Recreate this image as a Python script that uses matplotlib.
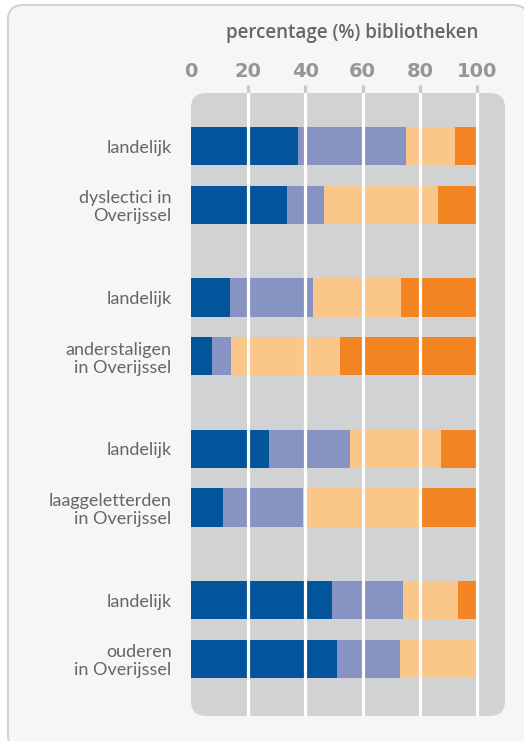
import numpy as np
import matplotlib.pyplot as plt
from matplotlib.patches import FancyBboxPatch

# rows, top to bottom
labels = ['landelijk', 'dyslectici in\nOverijssel',
          'landelijk', 'anderstaligen\nin Overijssel',
          'landelijk', 'laaggeletterden\nin Overijssel',
          'landelijk', 'ouderen\nin Overijssel']

# four stacked segments per row (percentage of libraries)
seg1 = np.array([37.4, 33.6, 13.6, 7.3, 27.3, 11.2, 49.3, 51.0])
seg2 = np.array([37.8, 12.9, 29.1, 6.7, 28.3, 28.0, 24.8, 22.1])
seg3 = np.array([17.1, 39.9, 30.7, 38.1, 31.8, 40.8, 19.3, 26.9])
seg4 = np.array([7.7, 13.6, 26.6, 47.9, 12.6, 20.0, 6.6, 0.0])

ticks = [0, 20, 40, 60, 80, 100]
colors = ['#02549b', '#8793c2', '#fbc689', '#f38422']

W, H = 524, 741
fig = plt.figure(figsize=(W / 100, H / 100), dpi=100)
fig.patch.set_facecolor('white')

# outer rounded frame
bg = fig.add_axes([0, 0, 1, 1])
bg.set_xlim(0, W)
bg.set_ylim(H, 0)
bg.axis('off')
bg.add_patch(FancyBboxPatch((8, 5), 520, 745, boxstyle='round,pad=0,rounding_size=15',
                            fc='#f6f6f6', ec='#d3d3d3', lw=1.5))

# main panel
pl, pr, pt, pb = 191, 505, 93, 716
ax = fig.add_axes([pl / W, (H - pb) / H, (pr - pl) / W, (pb - pt) / H])
ax.patch.set_visible(False)
for s in ax.spines.values():
    s.set_visible(False)

ax.add_patch(FancyBboxPatch((0, 0), 1, 1, boxstyle='round,pad=0,rounding_size=0.048',
                            mutation_aspect=(pr - pl) / (pb - pt), transform=ax.transAxes,
                            fc='#d1d2d4', ec='none', zorder=0, clip_on=False))

# y layout: pairs of rows, gap between groups
ypos = np.array([g * 2.58 + k for g in range(4) for k in range(2)])

left = np.zeros(len(labels))
for vals, c in zip([seg1, seg2, seg3, seg4], colors):
    ax.barh(ypos, vals, left=left, height=0.65, color=c, zorder=2)
    left += vals

xmax = 100 * (pr - pl) / (477 - 191)
ax.set_xlim(0, xmax)
ax.set_ylim(ypos[-1] + 0.974, -0.906)

for t in ticks[1:]:
    ax.axvline(t, color='white', lw=2.3, zorder=3)

ax.xaxis.tick_top()
ax.set_xticks(ticks)
ax.set_xticklabels([str(t) for t in ticks], fontsize=14, fontweight='bold',
                   color='#969696', family='DejaVu Sans')
ax.tick_params(axis='x', length=5.5, width=2.3, color='#c9c9c9', pad=3)
ax.xaxis.get_major_ticks()[0].tick2line.set_visible(False)

ax.set_yticks(ypos)
ax.set_yticklabels(labels, fontsize=13, color='#666666', fontweight='normal',
                   family=['Lato', 'DejaVu Sans'], linespacing=1.15)
ax.tick_params(axis='y', length=0, pad=14)

fig.text(352 / W, 1 - 33 / H, 'percentage (%) bibliotheken', ha='center', va='center',
         fontsize=13.5, fontweight='semibold', color='#666666', family=['Open Sans', 'DejaVu Sans'])

fig.savefig('out.png', dpi=100)
